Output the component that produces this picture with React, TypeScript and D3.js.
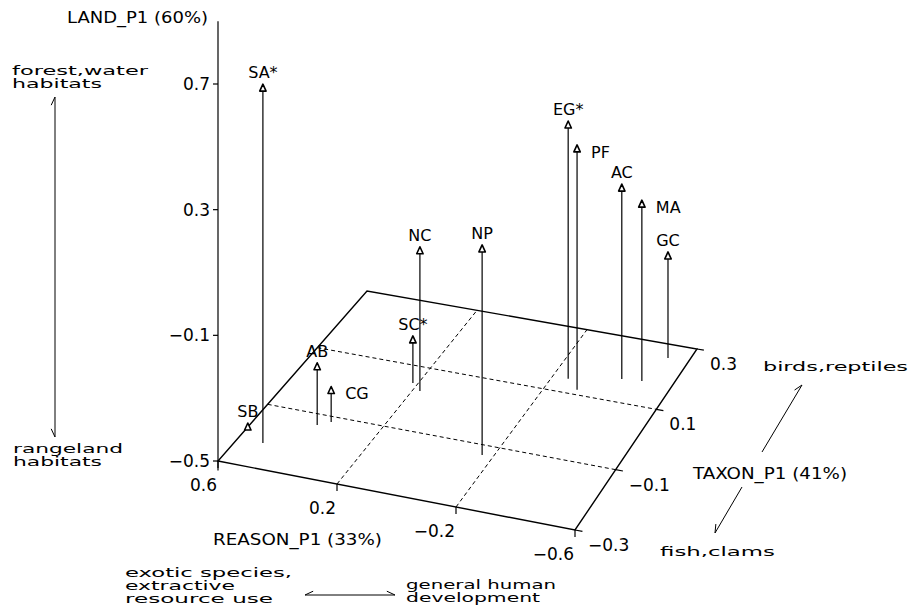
import React, { useRef, useEffect } from "react";
import * as d3 from "d3";

// site scores on the first principal axes
const sites = ["SA*", "SB", "AB", "CG", "SC*", "NC", "NP", "EG*", "PF", "AC", "MA", "GC"];
const reasonP1 = [0.515, 0.6, 0.401, 0.367, 0.217, 0.176, -0.163, -0.255, -0.308, -0.425, -0.493, -0.526];
const taxonP1 = [-0.22, -0.18, -0.134, -0.117, 0.046, 0.026, -0.131, 0.143, 0.115, 0.171, 0.176, 0.258];
const landP1 = [0.63, -0.5, -0.315, -0.4, -0.363, -0.054, 0.156, 0.308, 0.267, 0.108, 0.063, -0.175];

const reasonTicks = [0.6, 0.2, -0.2, -0.6];
const taxonTicks = [-0.3, -0.1, 0.1, 0.3];
const landTicks = [-0.5, -0.1, 0.3, 0.7];
const gridReason = [0.2, -0.2];
const gridTaxon = [-0.1, 0.1];
const labelRight = ["CG", "PF", "MA"];

const W = 910;
const H = 609;

const App = () => {
    const svgRef = useRef(null);

    useEffect(() => {
        const svg = d3.select(svgRef.current);
        svg.selectAll("*").remove();

        // floor corners (reason, taxon): A(0.6,-0.3) B(-0.6,-0.3) C(-0.6,0.3) D(0.6,0.3)
        const A = [218, 461], B = [575, 530], C = [697, 349], D = [367, 291];
        const sScale = d3.scaleLinear().domain([0.6, -0.6]).range([0, 1]);
        const tScale = d3.scaleLinear().domain([-0.3, 0.3]).range([0, 1]);
        const zScale = d3.scaleLinear().domain([-0.5, 0.7]).range([0, 377]);

        const project = (r, t, z) => {
            const s = sScale(r), u = tScale(t);
            const x = A[0] * (1 - s) * (1 - u) + B[0] * s * (1 - u) + D[0] * (1 - s) * u + C[0] * s * u;
            const y = A[1] * (1 - s) * (1 - u) + B[1] * s * (1 - u) + D[1] * (1 - s) * u + C[1] * s * u;
            return [x, y - zScale(z)];
        };
        const fmt = d3.format(".1f");
        const line = d3.line();
        const sans = "'DejaVu Sans', sans-serif";
        const geo = "'DejaVu Sans', sans-serif";

        svg.append("rect").attr("width", W).attr("height", H).attr("fill", "#fff");

        // floor outline
        svg.append("path")
            .attr("d", line([project(0.6, -0.3, -0.5), project(-0.6, -0.3, -0.5), project(-0.6, 0.3, -0.5), project(0.6, 0.3, -0.5)]) + "Z")
            .attr("fill", "none").attr("stroke", "#000").attr("stroke-width", 1.4);

        // dashed grid on the floor
        gridReason.forEach(r => {
            svg.append("path").attr("d", line([project(r, -0.3, -0.5), project(r, 0.3, -0.5)]))
                .attr("stroke", "#000").attr("stroke-width", 1).attr("stroke-dasharray", "4,3");
        });
        gridTaxon.forEach(t => {
            svg.append("path").attr("d", line([project(0.6, t, -0.5), project(-0.6, t, -0.5)]))
                .attr("stroke", "#000").attr("stroke-width", 1).attr("stroke-dasharray", "4,3");
        });

        // vertical LAND axis
        svg.append("path").attr("d", line([project(0.6, -0.3, -0.53), project(0.6, -0.3, 0.9)]))
            .attr("stroke", "#000").attr("stroke-width", 1.2);
        landTicks.forEach(v => {
            const [x, y] = project(0.6, -0.3, v);
            svg.append("line").attr("x1", x - 5).attr("x2", x).attr("y1", y).attr("y2", y)
                .attr("stroke", "#000").attr("stroke-width", 1.2);
            svg.append("text").attr("x", x - 8).attr("y", y).attr("dy", "0.36em")
                .attr("text-anchor", "end").attr("font-family", sans).attr("font-size", 17)
                .text(fmt(v));
        });
        svg.append("text").attr("x", 208).attr("y", 23).attr("text-anchor", "end")
            .attr("font-family", sans).attr("font-size", 16)
            .attr("textLength", 141).attr("lengthAdjust", "spacingAndGlyphs")
            .text("LAND_P1 (60%)");

        // REASON axis ticks along the front edge
        reasonTicks.forEach(v => {
            const [x, y] = project(v, -0.3, -0.5);
            svg.append("line").attr("x1", x).attr("x2", x).attr("y1", y).attr("y2", y + 7)
                .attr("stroke", "#000").attr("stroke-width", 1.2);
            svg.append("text").attr("x", x - 1).attr("y", y + 30)
                .attr("text-anchor", "end").attr("font-family", sans).attr("font-size", 17)
                .text(fmt(v));
        });
        svg.append("text").attr("x", 213).attr("y", 545)
            .attr("font-family", sans).attr("font-size", 16)
            .attr("textLength", 169).attr("lengthAdjust", "spacingAndGlyphs")
            .text("REASON_P1 (33%)");

        // TAXON axis ticks along the right edge
        taxonTicks.forEach(v => {
            const [x, y] = project(-0.6, v, -0.5);
            const [x2, y2] = project(-0.625, v, -0.5);
            svg.append("line").attr("x1", x).attr("x2", x2).attr("y1", y).attr("y2", y2)
                .attr("stroke", "#000").attr("stroke-width", 1.2);
            svg.append("text").attr("x", x + 13).attr("y", y + 21)
                .attr("font-family", sans).attr("font-size", 17)
                .text(fmt(v));
        });
        svg.append("text").attr("x", 693).attr("y", 479)
            .attr("font-family", sans).attr("font-size", 16)
            .attr("textLength", 154).attr("lengthAdjust", "spacingAndGlyphs")
            .text("TAXON_P1 (41%)");

        // needles and markers
        const pts = sites.map((name, i) => ({
            name,
            top: project(reasonP1[i], taxonP1[i], landP1[i]),
            foot: project(reasonP1[i], taxonP1[i], -0.5)
        }));
        pts.forEach(p => {
            svg.append("line").attr("x1", p.top[0]).attr("x2", p.foot[0])
                .attr("y1", p.top[1] + 3).attr("y2", p.foot[1])
                .attr("stroke", "#000").attr("stroke-width", 1.2);
        });
        pts.forEach(p => {
            const [x, y] = p.top;
            svg.append("path")
                .attr("d", `M${x},${y - 4}L${x + 3.2},${y + 3}L${x - 3.2},${y + 3}Z`)
                .attr("fill", "#fff").attr("stroke", "#000").attr("stroke-width", 1.6)
                .attr("stroke-linejoin", "round");
            const right = labelRight.includes(p.name);
            svg.append("text")
                .attr("x", right ? x + 14 : x)
                .attr("y", right ? y + 9 : y - 10)
                .attr("text-anchor", right ? "start" : "middle")
                .attr("font-family", sans).attr("font-size", 16)
                .text(p.name);
        });

        // annotations
        const note = (txt, x, y, w) => {
            svg.append("text").attr("x", x).attr("y", y)
                .attr("font-family", geo).attr("font-size", 12)
                .attr("textLength", w).attr("lengthAdjust", "spacingAndGlyphs")
                .text(txt);
        };
        note("forest,water", 12, 75, 136);
        note("habitats", 12, 88, 90);
        note("rangeland", 13, 453, 110);
        note("habitats", 13, 466, 89);
        note("exotic species,", 125, 577, 167);
        note("extractive", 125, 590, 110);
        note("resource use", 125, 603, 148);
        note("general human", 406, 589, 150);
        note("development", 406, 602, 134);
        note("birds,reptiles", 763, 371, 145);
        note("fish,clams", 660, 556, 115);

        const arrow = (x1, y1, x2, y2, sign) => {
            svg.append("line").attr("x1", x1).attr("y1", y1).attr("x2", x2).attr("y2", y2)
                .attr("stroke", "#000").attr("stroke-width", 1);
            const len = Math.hypot(x1 - x2, y1 - y2);
            const vx = (x1 - x2) / len, vy = (y1 - y2) / len;
            const a = sign * 25 * Math.PI / 180;
            const bx = vx * Math.cos(a) - vy * Math.sin(a);
            const by = vx * Math.sin(a) + vy * Math.cos(a);
            svg.append("line").attr("x1", x2).attr("y1", y2)
                .attr("x2", x2 + bx * 9).attr("y2", y2 + by * 9)
                .attr("stroke", "#000").attr("stroke-width", 1);
        };
        arrow(55, 267, 55, 97, 1);
        arrow(55, 267, 55, 437, -1);
        arrow(350, 595, 305, 595, -1);
        arrow(350, 595, 395, 595, 1);
        arrow(762, 452, 802, 385, 1);
        arrow(742, 487, 715, 533, -1);
    }, []);

    return (
        <svg ref={svgRef} width={W} height={H}
            style={{ position: "absolute", left: 0, top: 0, display: "block" }} />
    );
};

export default App;
